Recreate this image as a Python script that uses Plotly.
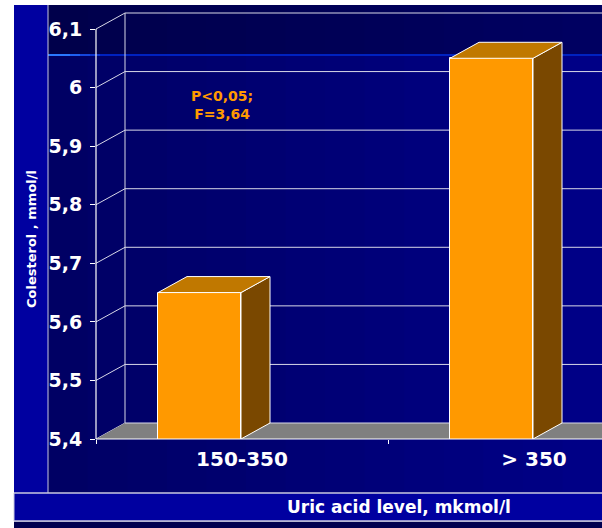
import plotly.graph_objects as go

# ---------------- data ----------------
CATEGORIES = ["150-350", "> 350"]
VALUES = [5.65, 6.05]
Y_TICKS = [5.4, 5.5, 5.6, 5.7, 5.8, 5.9, 6.0, 6.1]
Y_TICK_LABELS = ["5,4", "5,5", "5,6", "5,7", "5,8", "5,9", "6", "6,1"]
Y_TITLE = "Colesterol , mmol/l"
X_TITLE = "Uric acid level, mkmol/l"
NOTE_LINES = ["P<0,05;", "F=3,64"]
NOTE_POS = (-0.07, 5.97)

# ---------------- layout geometry ----------------
W, H = 602, 528
ML, MR, MT, MB = 96, 0, 5, 89
PW = W - ML - MR
PH = H - MT - MB
SLOT_PX = 292.0
Y_PX_PER_UNIT = 410.0 / 0.7
YMIN = Y_TICKS[0]
YMAX = YMIN + PH / Y_PX_PER_UNIT
XMIN = -0.5
XMAX = XMIN + PW / SLOT_PX
DDX = 29.0 / SLOT_PX          # depth offset in x (data units)
DDY = 16.0 / Y_PX_PER_UNIT    # depth offset in y (data units)
BAR_OFFSET = -84.0 / SLOT_PX
BAR_WIDTH = 83.0 / SLOT_PX

FRONT = "#FF9900"
TOP = "#C07800"
SIDE = "#7A4800"
EDGE = "white"
GRID = "#D8D8E8"


def pxx(px):
    return (px - ML) / PW


def pxy(py):
    return (H - MB - py) / PH


def xd2p(x):
    return (x - XMIN) / (XMAX - XMIN)


def yd2p(y):
    return (y - YMIN) / (YMAX - YMIN)


shapes = []

# chart-area background with a soft left-to-right gradient
N_STRIPS = 14
c0, c1 = (0, 0, 100), (0, 0, 134)
x_left, x_right = 48, W
for i in range(N_STRIPS):
    t = i / (N_STRIPS - 1)
    col = "rgb(%d,%d,%d)" % tuple(round(a + (b - a) * t) for a, b in zip(c0, c1))
    xa = x_left + (x_right - x_left) * i / N_STRIPS
    xb = x_left + (x_right - x_left) * (i + 1) / N_STRIPS + 1
    shapes.append(dict(type="rect", xref="paper", yref="paper", layer="below",
                       x0=pxx(xa), x1=pxx(xb), y0=pxy(493), y1=pxy(5),
                       fillcolor=col, line=dict(width=0)))

# darker top band and glowing blue line
shapes.append(dict(type="rect", xref="paper", yref="paper", layer="below",
                   x0=pxx(48), x1=pxx(W), y0=pxy(55), y1=pxy(5),
                   fillcolor="rgba(0,0,30,0.35)", line=dict(width=0)))
shapes.append(dict(type="rect", xref="paper", yref="paper", layer="below",
                   x0=pxx(48), x1=pxx(W), y0=pxy(56), y1=pxy(54),
                   fillcolor="#0022C0", line=dict(width=0)))
for k, (xa, xb, col) in enumerate([(48, 70, "#2A78FF"), (70, 80, "#1F60F0"),
                                   (80, 90, "#1546DC"), (90, 100, "#0C32CC")]):
    shapes.append(dict(type="rect", xref="paper", yref="paper", layer="below",
                       x0=pxx(xa), x1=pxx(xb), y0=pxy(56), y1=pxy(54),
                       fillcolor=col, line=dict(width=0)))

# left strip (y-axis title band)
shapes.append(dict(type="rect", xref="paper", yref="paper", layer="below",
                   x0=pxx(14), x1=pxx(48), y0=pxy(493), y1=pxy(5),
                   fillcolor="#0000A0", line=dict(width=0)))
shapes.append(dict(type="line", xref="paper", yref="paper", layer="below",
                   x0=pxx(48), x1=pxx(48), y0=pxy(493), y1=pxy(5),
                   line=dict(color="#C8C8E0", width=1)))
# bottom strip (x-axis title band)
shapes.append(dict(type="rect", xref="paper", yref="paper", layer="below",
                   x0=pxx(14), x1=pxx(W), y0=pxy(521), y1=pxy(493),
                   fillcolor="#0000A0", line=dict(width=0)))
shapes.append(dict(type="rect", xref="paper", yref="paper", layer="below",
                   x0=pxx(14), x1=pxx(W), y0=pxy(H), y1=pxy(521.5),
                   fillcolor="#000050", line=dict(width=0)))
for yy in (493, 521):
    shapes.append(dict(type="line", xref="paper", yref="paper", layer="below",
                       x0=pxx(14), x1=pxx(W), y0=pxy(yy), y1=pxy(yy),
                       line=dict(color="#C8C8E0", width=1.5)))
shapes.append(dict(type="line", xref="paper", yref="paper", layer="below",
                   x0=pxx(14), x1=pxx(14), y0=pxy(521), y1=pxy(493),
                   line=dict(color="#C8C8E0", width=1)))

# floor (3D base)
shapes.append(dict(type="path", xref="x", yref="y", layer="below",
                   path="M %f,%f L %f,%f L %f,%f L %f,%f Z" % (
                       XMIN, YMIN, XMAX, YMIN, XMAX, YMIN + DDY, XMIN + DDX, YMIN + DDY),
                   fillcolor="#808080", line=dict(width=0)))

# back-wall gridlines and side-wall diagonals
for t in Y_TICKS:
    shapes.append(dict(type="line", xref="x", yref="y", layer="below",
                       x0=XMIN + DDX, x1=XMAX, y0=t + DDY, y1=t + DDY,
                       line=dict(color=GRID, width=1)))
    shapes.append(dict(type="line", xref="paper", yref="paper", layer="below",
                       x0=xd2p(XMIN), x1=xd2p(XMIN + DDX), y0=yd2p(t), y1=yd2p(t + DDY),
                       line=dict(color=GRID, width=1)))
# back-wall left edge
shapes.append(dict(type="line", xref="x", yref="y", layer="below",
                   x0=XMIN + DDX, x1=XMIN + DDX, y0=YMIN + DDY, y1=Y_TICKS[-1] + DDY,
                   line=dict(color=GRID, width=1)))
# y axis line and front floor edge
shapes.append(dict(type="line", xref="paper", yref="paper", layer="above",
                   x0=xd2p(XMIN), x1=xd2p(XMIN), y0=yd2p(YMIN), y1=yd2p(Y_TICKS[-1]),
                   line=dict(color="white", width=1.2)))
shapes.append(dict(type="line", xref="paper", yref="paper", layer="above",
                   x0=xd2p(XMIN), x1=1, y0=yd2p(YMIN), y1=yd2p(YMIN),
                   line=dict(color="white", width=1.2)))

fig = go.Figure()

xpos = list(range(len(CATEGORIES)))
fig.add_trace(go.Bar(x=xpos, y=VALUES, offset=BAR_OFFSET, width=BAR_WIDTH,
                     marker=dict(color=FRONT, line=dict(color=EDGE, width=1)),
                     hoverinfo="skip", showlegend=False))

# 3D top and side faces derived from the values
top_x, top_y, side_x, side_y = [], [], [], []
for xc, v in zip(xpos, VALUES):
    x0 = xc + BAR_OFFSET
    x1 = x0 + BAR_WIDTH
    top_x += [x0, x1, x1 + DDX, x0 + DDX, x0, None]
    top_y += [v, v, v + DDY, v + DDY, v, None]
    side_x += [x1, x1, x1 + DDX, x1 + DDX, x1, None]
    side_y += [YMIN, v, v + DDY, YMIN + DDY, YMIN, None]

fig.add_trace(go.Scatter(x=side_x, y=side_y, mode="lines", fill="toself",
                         fillcolor=SIDE, line=dict(color=EDGE, width=1),
                         hoverinfo="skip", showlegend=False))
fig.add_trace(go.Scatter(x=top_x, y=top_y, mode="lines", fill="toself",
                         fillcolor=TOP, line=dict(color=EDGE, width=1),
                         hoverinfo="skip", showlegend=False))

FONT = "DejaVu Sans, Verdana, sans-serif"

annotations = [
    dict(text=Y_TITLE, xref="paper", yref="paper", x=pxx(31), y=pxy(239),
         textangle=-90, showarrow=False, xanchor="center", yanchor="middle",
         font=dict(family=FONT, size=13, color="white", weight="bold")),
    dict(text=X_TITLE, xref="paper", yref="paper", x=pxx(399), y=pxy(507),
         showarrow=False, xanchor="center", yanchor="middle",
         font=dict(family=FONT, size=17, color="white", weight="bold")),
    dict(text="<br>".join(NOTE_LINES), xref="x", yref="y", x=NOTE_POS[0], y=NOTE_POS[1],
         showarrow=False, xanchor="center", yanchor="middle", align="center",
         font=dict(family=FONT, size=14, color="#FF9900", weight="bold")),
]

fig.update_layout(
    width=W, height=H,
    margin=dict(l=ML, r=MR, t=MT, b=MB, pad=0),
    paper_bgcolor="white",
    plot_bgcolor="rgba(0,0,0,0)",
    shapes=shapes,
    annotations=annotations,
    showlegend=False,
    bargap=0,
    xaxis=dict(range=[XMIN, XMAX], showgrid=False, zeroline=False, showline=False,
               tickmode="array", tickvals=xpos, ticktext=CATEGORIES, ticks="",
               minor=dict(tickmode="array", tickvals=[XMIN, XMIN + 1], ticks="outside",
                          ticklen=4, tickcolor="white", tickwidth=1, showgrid=False),
               tickfont=dict(family=FONT, size=20, color="white", weight="bold"),
               ticklabelstandoff=6, fixedrange=True),
    yaxis=dict(range=[YMIN, YMAX], showgrid=False, zeroline=False, showline=False,
               tickmode="array", tickvals=Y_TICKS, ticktext=Y_TICK_LABELS,
               ticks="outside", ticklen=5, tickcolor="white", tickwidth=1,
               tickfont=dict(family=FONT, size=19, color="white", weight="bold"),
               ticklabelstandoff=4, fixedrange=True),
)

fig.write_html("out.html", config={"displayModeBar": False},
               post_script="document.body.style.margin='0px';")
